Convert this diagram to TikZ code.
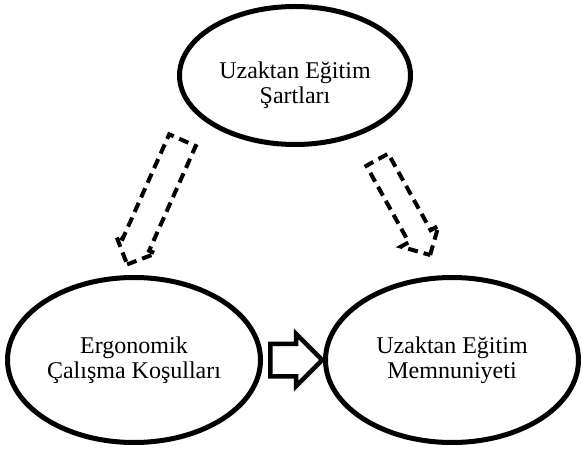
\documentclass[tikz,border=0pt]{standalone}
\usepackage{fontspec}
\setmainfont{Liberation Serif}
\usetikzlibrary{shapes.geometric,shapes.arrows,calc}

\begin{document}
\begin{tikzpicture}[
x=1pt, y=1pt,
every node/.style={font=\fontsize{24}{25}\selectfont},
oval/.style={ellipse, draw, line width=5pt, align=center, inner sep=0pt},
okblok/.style={single arrow, draw, line width=#1, inner xsep=0pt, single arrow tip angle=90},
kesikok/.style={okblok=4pt, dash pattern=on 10pt off 6pt}
]
\useasboundingbox (0,0) rectangle (583,450);

% --- Elipsler ---
\node[oval, minimum width=231pt, minimum height=138pt] (ust) at (295,374.5) {};
\node[align=center] (ustYazi) at ($(ust.center)+(0,-10)$) {Uzaktan Eğitim\\Şartları};
\node[oval, minimum width=253pt, minimum height=165pt] (sol) at (134,90) {Ergonomik\\Çalışma Koşulları};
\node[oval, minimum width=253pt, minimum height=165pt] (sag) at (452,90) {Uzaktan Eğitim\\Memnuniyeti};

% Kesikli oklar
\node[kesikok, rotate=246, anchor=tip, minimum height=136pt, inner ysep=12.5pt, single arrow head extend=7pt] (okSol) at (126,183) {};
\node[kesikok, rotate=-61, anchor=tip, minimum height=109pt, inner ysep=10.5pt, single arrow head extend=9pt] (okSag) at (431.5,192.5) {};

% Ortadaki ok
\node[okblok=4.5pt, anchor=tail, minimum height=52pt, inner ysep=14pt, single arrow head extend=10pt] (okOrta) at ($(sol.east)+(5,0)$) {};

\end{tikzpicture}
\end{document}
